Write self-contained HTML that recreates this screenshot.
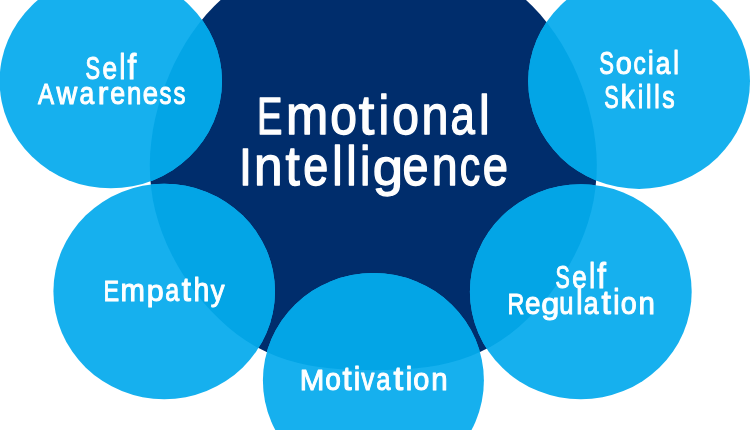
<!DOCTYPE html>
<html>
<head>
<meta charset="utf-8">
<title>Emotional Intelligence</title>
<style>
html,body{margin:0;padding:0;background:#fff;}
body{width:750px;height:430px;overflow:hidden;font-family:"Liberation Sans",sans-serif;}
svg{display:block;}
text{font-family:"Liberation Sans",sans-serif;fill:#fff;stroke:#fff;stroke-linejoin:round;}
</style>
</head>
<body>
<svg width="750" height="430" viewBox="0 0 750 430">
  <defs>
    <clipPath id="cc"><path d="M373.3,-55.7 L361.7,-55.5 L350.2,-54.7 L338.7,-53.4 L327.3,-51.6 L315.9,-49.2 L304.6,-46.3 L293.5,-42.9 L282.6,-38.8 L271.8,-34.2 L261.3,-29.0 L251.1,-23.2 L241.3,-16.7 L231.8,-9.7 L222.8,-2.1 L214.3,6.0 L206.3,14.6 L198.8,23.7 L191.9,33.2 L185.5,43.0 L179.7,53.2 L174.3,63.6 L169.5,74.3 L165.2,85.1 L161.3,96.1 L158.0,107.3 L155.2,118.6 L152.9,130.1 L151.3,141.7 L150.2,153.3 L149.8,165.0 L150.1,176.7 L151.2,188.3 L152.9,199.9 L155.4,211.3 L158.6,222.5 L162.4,233.5 L166.8,244.3 L171.8,254.7 L177.3,264.9 L183.2,274.8 L189.6,284.3 L196.3,293.6 L203.5,302.5 L211.1,311.0 L219.2,319.1 L227.6,326.8 L236.5,333.9 L245.8,340.5 L255.5,346.4 L265.6,351.6 L276.0,356.0 L286.6,359.8 L297.4,362.8 L308.2,365.2 L319.2,367.0 L330.1,368.3 L341.0,369.2 L351.8,369.8 L362.6,370.1 L373.3,370.2 L384.0,370.1 L394.8,369.8 L405.6,369.2 L416.5,368.3 L427.4,367.0 L438.4,365.2 L449.2,362.8 L460.0,359.8 L470.6,356.0 L481.0,351.6 L491.1,346.4 L500.8,340.5 L510.1,333.9 L519.0,326.8 L527.4,319.1 L535.5,311.0 L543.1,302.5 L550.3,293.6 L557.0,284.3 L563.4,274.8 L569.3,264.9 L574.8,254.7 L579.8,244.3 L584.2,233.5 L588.0,222.5 L591.2,211.3 L593.7,199.9 L595.4,188.3 L596.5,176.7 L596.8,165.0 L596.4,153.3 L595.3,141.7 L593.7,130.1 L591.4,118.6 L588.6,107.3 L585.3,96.1 L581.4,85.1 L577.1,74.3 L572.3,63.6 L566.9,53.2 L561.1,43.0 L554.7,33.2 L547.8,23.7 L540.3,14.6 L532.3,6.0 L523.8,-2.1 L514.8,-9.7 L505.3,-16.7 L495.5,-23.2 L485.3,-29.0 L474.8,-34.2 L464.0,-38.8 L453.1,-42.9 L442.0,-46.3 L430.7,-49.2 L419.3,-51.6 L407.9,-53.4 L396.4,-54.7 L384.9,-55.5Z"/></clipPath>
  </defs>
  <rect width="750" height="430" fill="#ffffff"/>
  <g fill="#002d6c"><path d="M373.3,-55.7 L361.7,-55.5 L350.2,-54.7 L338.7,-53.4 L327.3,-51.6 L315.9,-49.2 L304.6,-46.3 L293.5,-42.9 L282.6,-38.8 L271.8,-34.2 L261.3,-29.0 L251.1,-23.2 L241.3,-16.7 L231.8,-9.7 L222.8,-2.1 L214.3,6.0 L206.3,14.6 L198.8,23.7 L191.9,33.2 L185.5,43.0 L179.7,53.2 L174.3,63.6 L169.5,74.3 L165.2,85.1 L161.3,96.1 L158.0,107.3 L155.2,118.6 L152.9,130.1 L151.3,141.7 L150.2,153.3 L149.8,165.0 L150.1,176.7 L151.2,188.3 L152.9,199.9 L155.4,211.3 L158.6,222.5 L162.4,233.5 L166.8,244.3 L171.8,254.7 L177.3,264.9 L183.2,274.8 L189.6,284.3 L196.3,293.6 L203.5,302.5 L211.1,311.0 L219.2,319.1 L227.6,326.8 L236.5,333.9 L245.8,340.5 L255.5,346.4 L265.6,351.6 L276.0,356.0 L286.6,359.8 L297.4,362.8 L308.2,365.2 L319.2,367.0 L330.1,368.3 L341.0,369.2 L351.8,369.8 L362.6,370.1 L373.3,370.2 L384.0,370.1 L394.8,369.8 L405.6,369.2 L416.5,368.3 L427.4,367.0 L438.4,365.2 L449.2,362.8 L460.0,359.8 L470.6,356.0 L481.0,351.6 L491.1,346.4 L500.8,340.5 L510.1,333.9 L519.0,326.8 L527.4,319.1 L535.5,311.0 L543.1,302.5 L550.3,293.6 L557.0,284.3 L563.4,274.8 L569.3,264.9 L574.8,254.7 L579.8,244.3 L584.2,233.5 L588.0,222.5 L591.2,211.3 L593.7,199.9 L595.4,188.3 L596.5,176.7 L596.8,165.0 L596.4,153.3 L595.3,141.7 L593.7,130.1 L591.4,118.6 L588.6,107.3 L585.3,96.1 L581.4,85.1 L577.1,74.3 L572.3,63.6 L566.9,53.2 L561.1,43.0 L554.7,33.2 L547.8,23.7 L540.3,14.6 L532.3,6.0 L523.8,-2.1 L514.8,-9.7 L505.3,-16.7 L495.5,-23.2 L485.3,-29.0 L474.8,-34.2 L464.0,-38.8 L453.1,-42.9 L442.0,-46.3 L430.7,-49.2 L419.3,-51.6 L407.9,-53.4 L396.4,-54.7 L384.9,-55.5Z"/></g>
  <g fill="#16b0ee">
    <ellipse cx="110.8" cy="81" rx="111.2" ry="107.3"/>
    <ellipse cx="639.1" cy="81.3" rx="110.9" ry="107.6"/>
    <ellipse cx="164.2" cy="291.5" rx="110.8" ry="107.7"/>
    <ellipse cx="580.8" cy="291.8" rx="110.9" ry="107.5"/>
    <ellipse cx="373.4" cy="380.5" rx="110.5" ry="107.5"/>
  </g>
  <g fill="#03a5e6" clip-path="url(#cc)">
    <ellipse cx="110.8" cy="81" rx="111.2" ry="107.3"/>
    <ellipse cx="639.1" cy="81.3" rx="110.9" ry="107.6"/>
    <ellipse cx="164.2" cy="291.5" rx="110.8" ry="107.7"/>
    <ellipse cx="580.8" cy="291.8" rx="110.9" ry="107.5"/>
    <ellipse cx="373.4" cy="380.5" rx="110.5" ry="107.5"/>
  </g>
  <g opacity="0.999" font-size="52.0" stroke-width="1.3" font-weight="normal">
    <text transform="translate(256.95,134.1) scale(0.733,1)">E</text><text transform="translate(285.97,134.1) scale(0.975,1.06)">m</text><text transform="translate(330.18,134.1) scale(0.924,1.06)">o</text><text transform="translate(358.85,134.1) scale(1.077,1.08)">t</text><text transform="translate(378.62,134.1) scale(0.924,1.05)">i</text><text transform="translate(392.28,134.1) scale(0.924,1.06)">o</text><text transform="translate(421.39,134.1) scale(0.932,1.06)">n</text><text transform="translate(450.39,134.1) scale(0.843,1.06)">a</text><text transform="translate(479.05,134.1) scale(0.924,1.05)">l</text>
    <text transform="translate(239.08,185.2) scale(0.896,1)">I</text><text transform="translate(253.93,185.2) scale(0.988,1.06)">n</text><text transform="translate(285.46,185.2) scale(0.988,1.08)">t</text><text transform="translate(303.15,185.2) scale(0.864,1.06)">e</text><text transform="translate(332.31,185.2) scale(0.896,1.05)">l</text><text transform="translate(346.21,185.2) scale(0.896,1.05)">l</text><text transform="translate(360.08,185.2) scale(0.896,1.05)">i</text><text transform="translate(372.79,185.2) scale(1.049,1)">g</text><text transform="translate(402.50,185.2) scale(0.899,1.06)">e</text><text transform="translate(431.80,185.2) scale(0.894,1.06)">n</text><text transform="translate(459.77,185.2) scale(0.788,1.06)">c</text><text transform="translate(482.64,185.2) scale(0.872,1.06)">e</text>
  </g>
  <g opacity="0.999" font-size="30.0" stroke-width="1.0" font-weight="normal">
    <text transform="translate(85.57,78.6) scale(0.728,1.03)">S</text><text transform="translate(102.53,78.6) scale(0.869,1.07)">e</text><text transform="translate(119.55,78.6) scale(0.869,1.17)">l</text><text transform="translate(127.56,78.6) scale(1.043,1.17)">f</text>
    <text transform="translate(37.95,104.3) scale(0.804,1)">A</text><text transform="translate(56.62,104.3) scale(0.957,1.07)">w</text><text transform="translate(79.52,104.3) scale(0.884,1.07)">a</text><text transform="translate(97.81,104.3) scale(1.060,1.07)">r</text><text transform="translate(110.31,104.3) scale(0.895,1.07)">e</text><text transform="translate(127.12,104.3) scale(0.859,1.07)">n</text><text transform="translate(142.79,104.3) scale(0.915,1.07)">e</text><text transform="translate(159.53,104.3) scale(0.795,1.07)">s</text><text transform="translate(173.53,104.3) scale(0.795,1.07)">s</text>
    <text transform="translate(599.17,73.6) scale(0.733,1.03)">S</text><text transform="translate(615.87,73.6) scale(0.963,1.07)">o</text><text transform="translate(633.57,73.6) scale(0.818,1.07)">c</text><text transform="translate(648.08,73.6) scale(0.848,1.1)">i</text><text transform="translate(655.72,73.6) scale(0.878,1.07)">a</text><text transform="translate(673.27,73.6) scale(0.848,1.1)">l</text>
    <text transform="translate(604.18,108.4) scale(0.722,1.03)">S</text><text transform="translate(620.77,108.4) scale(0.941,1.1)">k</text><text transform="translate(637.86,108.4) scale(0.824,1.1)">i</text><text transform="translate(645.95,108.4) scale(0.824,1.1)">l</text><text transform="translate(654.35,108.4) scale(0.824,1.1)">l</text><text transform="translate(662.32,108.4) scale(0.824,1.07)">s</text>
    <text transform="translate(103.57,301.1) scale(0.782,1)">E</text><text transform="translate(120.54,301.1) scale(0.976,1.07)">m</text><text transform="translate(146.85,301.1) scale(1.014,1)">p</text><text transform="translate(165.15,301.1) scale(0.835,1.07)">a</text><text transform="translate(181.75,301.1) scale(1.097,1.08)">t</text><text transform="translate(193.51,301.1) scale(0.945,1.09)">h</text><text transform="translate(210.69,301.1) scale(0.920,1)">y</text>
    <text transform="translate(555.39,287.9) scale(0.712,1.03)">S</text><text transform="translate(572.13,287.9) scale(0.862,1.07)">e</text><text transform="translate(589.22,287.9) scale(0.862,1.14)">l</text><text transform="translate(597.20,287.9) scale(1.035,1.14)">f</text>
    <text transform="translate(507.48,314.3) scale(0.776,1)">R</text><text transform="translate(525.08,314.3) scale(0.929,1.07)">e</text><text transform="translate(541.28,314.3) scale(1.083,1)">g</text><text transform="translate(559.37,314.3) scale(0.851,1.07)">u</text><text transform="translate(576.30,314.3) scale(0.942,1.14)">l</text><text transform="translate(583.82,314.3) scale(0.884,1.07)">a</text><text transform="translate(601.40,314.3) scale(1.131,1.08)">t</text><text transform="translate(613.22,314.3) scale(0.942,1.14)">i</text><text transform="translate(620.67,314.3) scale(0.956,1.07)">o</text><text transform="translate(638.53,314.3) scale(0.982,1.07)">n</text>
    <text transform="translate(299.67,390.1) scale(0.983,1)">M</text><text transform="translate(325.29,390.1) scale(0.936,1.07)">o</text><text transform="translate(342.55,390.1) scale(1.097,1.08)">t</text><text transform="translate(353.77,390.1) scale(0.972,1.11)">i</text><text transform="translate(361.35,390.1) scale(0.874,1.07)">v</text><text transform="translate(376.34,390.1) scale(0.853,1.07)">a</text><text transform="translate(393.40,390.1) scale(1.167,1.08)">t</text><text transform="translate(405.67,390.1) scale(0.972,1.11)">i</text><text transform="translate(413.17,390.1) scale(0.963,1.07)">o</text><text transform="translate(431.23,390.1) scale(0.982,1.07)">n</text>
  </g>
</svg>
</body>
</html>
